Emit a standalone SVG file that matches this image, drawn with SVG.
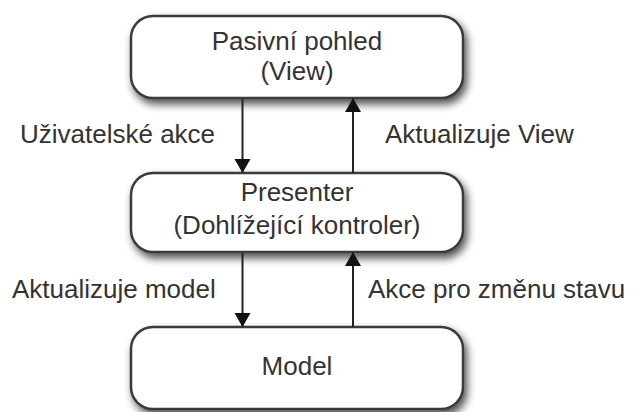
<svg xmlns="http://www.w3.org/2000/svg" width="635" height="412" viewBox="0 0 635 412">
  <style>
    .box { fill: #ffffff; stroke: #3a3a3a; stroke-width: 2.5; filter: url(#shadow); }
    .label { font-family: "Liberation Sans", Arial, sans-serif; font-size: 26px; fill: #333333; }
    .mid { text-anchor: middle; }
    .wire { stroke: #222222; stroke-width: 2; fill: none; }
  </style>
  <defs>
    <filter id="shadow" x="-10%" y="-20%" width="125%" height="150%">
      <feGaussianBlur in="SourceAlpha" stdDeviation="4"/>
      <feOffset dx="3" dy="5" result="blur"/>
      <feComponentTransfer><feFuncA type="linear" slope="0.7"/></feComponentTransfer>
      <feMerge><feMergeNode/><feMergeNode in="SourceGraphic"/></feMerge>
    </filter>
    <marker id="head" viewBox="0 0 14 18" refX="13" refY="9" markerWidth="14" markerHeight="18" markerUnits="userSpaceOnUse" orient="auto">
      <path d="M0,1 L14,9 L0,17 Z" fill="#111111"/>
    </marker>
  </defs>

  <rect width="635" height="412" fill="#ffffff"/>

  <g id="view">
    <rect class="box" x="131" y="16" width="332" height="82" rx="22"/>
    <text class="label mid" x="297" y="50">Pasivní pohled</text>
    <text class="label mid" x="297" y="80">(View)</text>
  </g>

  <g id="presenter">
    <rect class="box" x="131" y="173" width="332" height="79" rx="22"/>
    <text class="label mid" x="297" y="201">Presenter</text>
    <text class="label mid" x="297" y="234">(Dohlížející kontroler)</text>
  </g>

  <g id="model">
    <rect class="box" x="131" y="327" width="332" height="82" rx="22"/>
    <text class="label mid" x="297" y="375">Model</text>
  </g>

  <g id="connectors">
    <line class="wire" x1="242.5" y1="99" x2="242.5" y2="172" marker-end="url(#head)"/>
    <line class="wire" x1="353" y1="173" x2="353" y2="99" marker-end="url(#head)"/>
    <line class="wire" x1="242.5" y1="253" x2="242.5" y2="326" marker-end="url(#head)"/>
    <line class="wire" x1="353" y1="327" x2="353" y2="253" marker-end="url(#head)"/>
    <text class="label" x="20" y="143">Uživatelské akce</text>
    <text class="label" x="385" y="143">Aktualizuje View</text>
    <text class="label" x="12" y="298">Aktualizuje model</text>
    <text class="label" x="368" y="298">Akce pro změnu stavu</text>
  </g>
</svg>
